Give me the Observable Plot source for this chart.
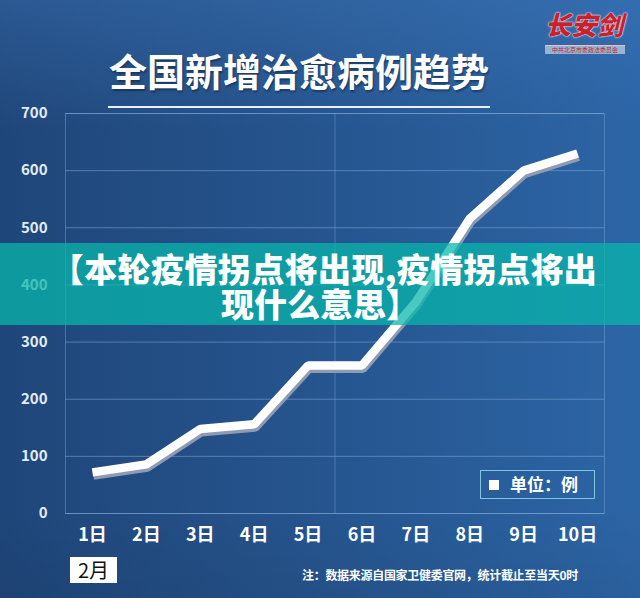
<!DOCTYPE html>
<html>
<head>
<meta charset="utf-8">
<script src="https://cdn.jsdelivr.net/npm/d3@7"></script>
<script src="https://cdn.jsdelivr.net/npm/@observablehq/plot@0.6"></script>
<style>
  html, body { margin: 0; padding: 0; }
  #wrap {
    position: relative; width: 640px; height: 598px; overflow: hidden;
    background:
      linear-gradient(to bottom, rgba(70,130,200,0.30) 0%, rgba(0,0,0,0) 22%, rgba(0,0,0,0) 85%, rgba(0,0,0,0.06) 100%),
      linear-gradient(to right, #1f467a 0%, #25538c 45%, #2c65a6 100%);
    font-family: "Noto Sans CJK SC", "Noto Sans", sans-serif;
  }
  #chart { position: absolute; left: 0; top: 0; }
  .abs { position: absolute; }
  #title {
    left: 100px; width: 398px; top: 45px; text-align: center;
    color: #fff; font-size: 38px; font-weight: 700; line-height: 50px;
    text-shadow: 1px 2px 2px rgba(0,0,0,0.35);
  }
  #titleLine { left: 108px; top: 106px; width: 382px; height: 2px; background: #e8f0f8; }
  #banner {
    left: 0; top: 243px; width: 640px; height: 82px;
    background: rgba(8, 182, 172, 0.74);
  }
  .bannerText {
    left: 0; width: 640px; text-align: center; white-space: nowrap;
    color: #fff; font-size: 33px; font-weight: 900; line-height: 34px;
  }
  #bannerText1 { left: 4px; top: 251px; letter-spacing: 0.4px; }
  #bannerText2 { top: 286px; }
  #legend {
    left: 480px; top: 470px; width: 115px; height: 29px;
    border: 1px solid #7fc6dc; box-sizing: border-box;
  }
  #legendSwatch { left: 489px; top: 480px; width: 10px; height: 10px; background: #fff; }
  #legendText { left: 510px; top: 471px; color: #fff; font-size: 17px; font-weight: 700; line-height: 26px; }
  #month {
    left: 70px; top: 557px; width: 47px; height: 26px; background: #fff;
    color: #111; font-size: 20px; line-height: 26px; text-align: center;
    font-family: "Liberation Sans Narrow", "Noto Sans CJK SC", sans-serif;
  }
  #note {
    left: 302px; top: 566px; color: #fff; font-size: 12px; font-weight: 700; line-height: 18px;
    letter-spacing: -0.3px;
  }
  #logo {
    left: 545px; top: 9px; color: #c8202c; font-size: 26px; font-weight: 900; line-height: 30px;
    font-family: "Noto Sans CJK SC", serif; font-style: italic;
    text-shadow: 0 0 2px #fff, 0 0 1px #fff;
  }
  #logoSub {
    left: 545px; top: 45px; width: 80px; color: #c8202c; font-size: 6px; line-height: 8px;
    border-top: 1px solid #e6c0c0; text-align: center; background: rgba(255,255,255,0.5);
  }
</style>
</head>
<body>
<div id="wrap">
  <div id="chart"></div>
  <div class="abs" id="title">全国新增治愈病例趋势</div>
  <div class="abs" id="titleLine"></div>
  <div class="abs" id="logo">长安剑</div>
  <div class="abs" id="logoSub">中共北京市委政法委员会</div>
  <div class="abs" id="legend"></div>
  <div class="abs" id="legendSwatch"></div>
  <div class="abs" id="legendText">单位：例</div>
  <div class="abs" id="month">2月</div>
  <div class="abs" id="note">注：数据来源自国家卫健委官网，统计截止至当天0时</div>
  <div class="abs" id="banner"></div>
  <div class="abs bannerText" id="bannerText1">【本轮疫情拐点将出现,疫情拐点将出</div>
  <div class="abs bannerText" id="bannerText2">现什么意思】</div>
</div>
<script>
// Data
const days = [1, 2, 3, 4, 5, 6, 7, 8, 9, 10];
const dayLabels = ["1日", "2日", "3日", "4日", "5日", "6日", "7日", "8日", "9日", "10日"];
const cured = [72, 86, 148, 156, 259, 259, 370, 516, 600, 630];
const yTicks = [0, 100, 200, 300, 400, 500, 600, 700];

const data = days.map((d, i) => ({day: d, value: cured[i]}));
const midDay = (days[4] + days[5]) / 2;

const chart = Plot.plot({
  width: 640,
  height: 598,
  marginTop: 113,
  marginBottom: 85,
  marginLeft: 65,
  marginRight: 36,
  style: {background: "transparent", fontFamily: "'Liberation Sans Narrow', 'Noto Sans CJK SC', sans-serif"},
  x: {domain: [days[0] - 0.5, days[days.length - 1] + 0.5], label: null},
  y: {domain: [0, 700], label: null},
  marks: [
    Plot.ruleY(yTicks, {stroke: "#7fa9d8", strokeOpacity: 0.55, strokeWidth: 1}),
    Plot.frame({stroke: "#7fa9d8", strokeOpacity: 0.45}),
    Plot.ruleX([midDay], {stroke: "#7fa9d8", strokeOpacity: 0.4}),
    Plot.axisY(yTicks, {label: null, tickSize: 0, tickPadding: 18, fontSize: 15, fontWeight: "bold", fill: "#e4ecf4"}),
    Plot.axisX(days, {label: null, tickSize: 0, tickPadding: 15, fontSize: 18, fontWeight: "bold", fill: "#ffffff",
      tickFormat: d => dayLabels[d - 1]}),
    Plot.line(data, {x: "day", y: "value", stroke: "#8e9bb2", strokeWidth: 9, dx: 1, dy: 3,
      strokeLinejoin: "miter", strokeLinecap: "butt"}),
    Plot.line(data, {x: "day", y: "value", stroke: "#ffffff", strokeWidth: 8.5,
      strokeLinejoin: "miter", strokeLinecap: "butt"})
  ]
});
document.getElementById("chart").appendChild(chart);
</script>
</body>
</html>
